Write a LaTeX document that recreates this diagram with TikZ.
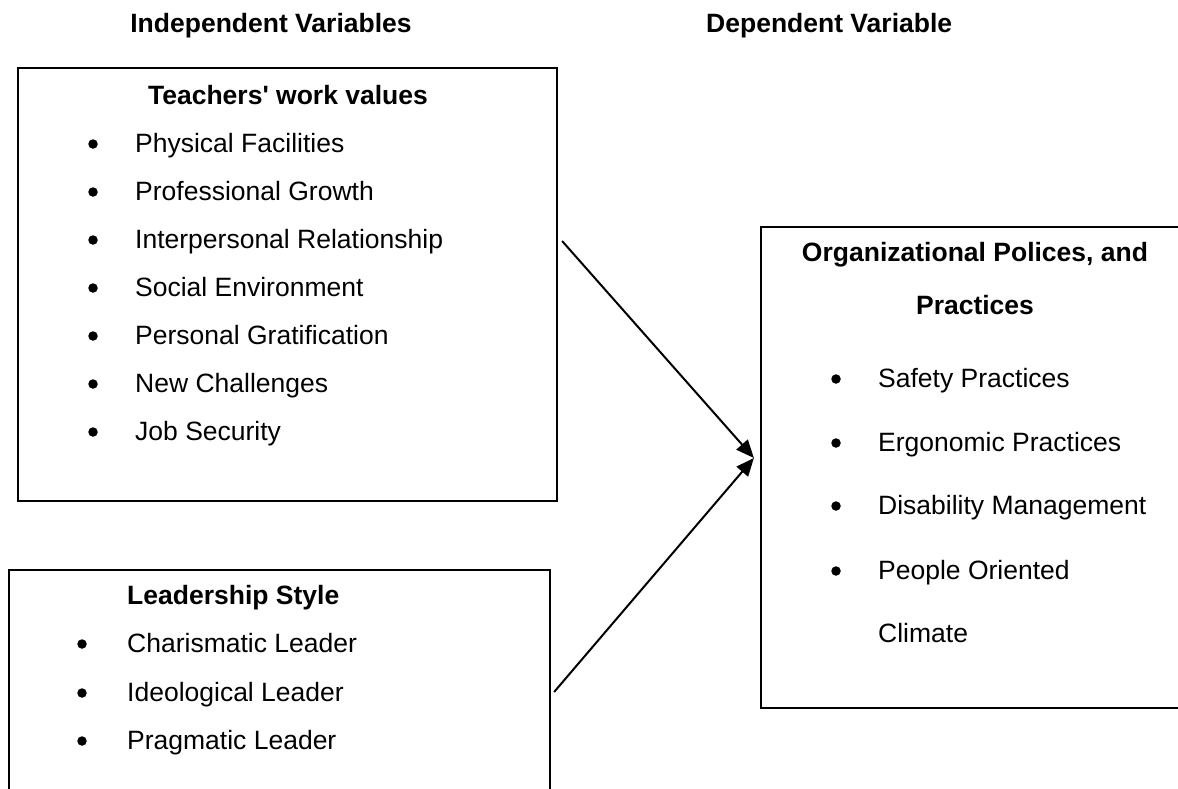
\documentclass[tikz,border=0pt]{standalone}
\usepackage{fontspec}
\setmainfont{Liberation Sans}
\usetikzlibrary{arrows.meta}

\tikzset{
  box/.style={draw, line width=2.2pt, inner sep=0pt},
  txt/.style={inner sep=0pt, anchor=base west, font=\fontsize{26.5}{32}\selectfont},
  head/.style={inner sep=0pt, anchor=base, font=\fontsize{26.5}{32}\selectfont\bfseries},
  dot/.style={circle, fill, inner sep=0pt, minimum size=9.5pt},
  conn/.style={line width=2pt, -{Triangle[length=18pt,width=15pt]}}
}

\begin{document}
\begin{tikzpicture}[x=1pt,y=-1pt]
\clip (0,0) rectangle (1178,788);
\fill[white] (0,0) rectangle (1178,788);

% 三个方框
\node[box, minimum width=539pt, minimum height=433pt] (wv) at (287.5,284.5) {};
\node[box, minimum width=541pt, minimum height=234pt] (ls) at (279.5,687) {};
\node[box, minimum width=429pt, minimum height=481pt] (op) at (975.5,467.5) {};

% 标题
\node[head] (indep) at (271,32) {Independent Variables};
\node[head, anchor=base west] (dep) at (706,32) {Dependent Variable};

% 教师工作价值
\node[head] (wvt) at (288,104) {Teachers\textquotesingle\ work values};
\node[dot] (w1) at (93,144) {};
\node[txt] (w1t) at (135,152) {Physical Facilities};
\node[dot] (w2) at (93,192) {};
\node[txt] (w2t) at (135,200) {Professional Growth};
\node[dot] (w3) at (93,240) {};
\node[txt] (w3t) at (135,248) {Interpersonal Relationship};
\node[dot] (w4) at (93,288) {};
\node[txt] (w4t) at (135,296) {Social Environment};
\node[dot] (w5) at (93,336) {};
\node[txt] (w5t) at (135,344) {Personal Gratification};
\node[dot] (w6) at (93,384) {};
\node[txt] (w6t) at (135,392) {New Challenges};
\node[dot] (w7) at (93,432) {};
\node[txt] (w7t) at (135,440) {Job Security};

% 领导风格
\node[head, anchor=base west] (lst) at (127,604) {Leadership Style};
\node[dot] (l1) at (82,644) {};
\node[txt] (l1t) at (127,652) {Charismatic Leader};
\node[dot] (l2) at (82,693) {};
\node[txt] (l2t) at (127,701) {Ideological Leader};
\node[dot] (l3) at (82,741) {};
\node[txt] (l3t) at (127,749) {Pragmatic Leader};

% 组织政策与实践
\node[head] (opt1) at (975,261) {Organizational Polices, and};
\node[head] (opt2) at (975,314) {Practices};
\node[dot] (o1) at (836,379) {};
\node[txt] (o1t) at (878,387) {Safety Practices};
\node[dot] (o2) at (836,443) {};
\node[txt] (o2t) at (878,451) {Ergonomic Practices};
\node[dot] (o3) at (836,506) {};
\node[txt] (o3t) at (878,514) {Disability Management};
\node[dot] (o4) at (836,571) {};
\node[txt] (o4t) at (878,579) {People Oriented};
\node[txt] (o5t) at (878,642) {Climate};

% 箭头
\coordinate (meet) at ([xshift=-6pt,yshift=9.5pt]op.west);
\draw[conn] ([xshift=4pt,yshift=43.5pt]wv.east) -- (meet);
\draw[conn] ([xshift=3pt,yshift=-5pt]ls.east) -- (meet);
\end{tikzpicture}
\end{document}
